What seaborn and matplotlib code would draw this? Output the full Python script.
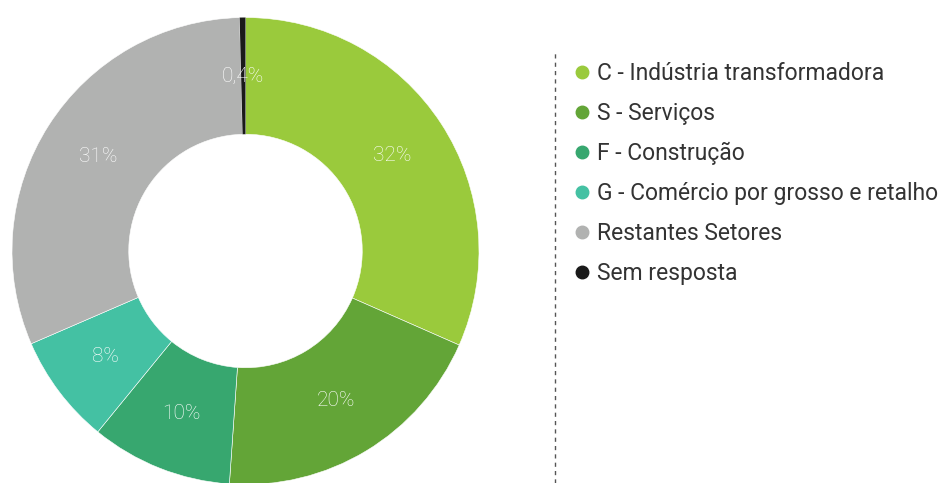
import matplotlib
matplotlib.use("Agg")
import numpy as np
import matplotlib.pyplot as plt
from matplotlib.lines import Line2D
import seaborn as sns

sectors = ["C - Indústria transformadora", "S - Serviços", "F - Construção",
           "G - Comércio por grosso e retalho", "Restantes Setores", "Sem resposta"]
shares = [31.6, 19.5, 9.8, 7.6, 31.1, 0.4]
share_labels = ["32%", "20%", "10%", "8%", "31%", "0,4%"]
colors = ["#9aca3c", "#63a537", "#37a76f", "#44c1a3", "#b1b2b1", "#1a1a1a"]

sns.set_theme(style="white")
plt.rcParams['font.family'] = ['Roboto', 'DejaVu Sans']

fig = plt.figure(figsize=(9.4, 4.83), dpi=100)
ax = fig.add_axes([12 / 940, -1.5 / 483, 467 / 940, 467 / 483])

wedges, _ = ax.pie(shares, colors=colors, startangle=90, counterclock=False,
                   radius=1.0, wedgeprops=dict(width=0.5, edgecolor="white", linewidth=0.4))
# "Sem resposta" is only a thin dark sliver
wedges[-1].set_linewidth(0)

# percentage labels in the middle of the ring
start = 90.0
for val, lab in zip(shares, share_labels):
    mid = np.deg2rad(start - val * 3.6 / 2)
    r = 0.75
    ax.text(r * np.cos(mid), r * np.sin(mid), lab, ha="center", va="center",
            color="white", fontsize=15, fontweight="light")
    start -= val * 3.6
ax.set_xlim(-1, 1)
ax.set_ylim(-1, 1)
ax.set_aspect("equal")
ax.axis("off")

# dashed separator
fig.add_artist(Line2D([555 / 940, 555 / 940], [0, 1 - 50 / 483], transform=fig.transFigure,
                      color="#555555", linestyle=(0, (3, 3)), linewidth=1))

handles = [Line2D([], [], marker="o", linestyle="", markersize=9,
                  markerfacecolor=c, markeredgecolor=c) for c in colors]
fig.legend(handles, sectors, loc="upper left", bbox_to_anchor=(563 / 940, 1 - 51 / 483),
           frameon=False, fontsize=16.5, labelspacing=0.735, handlelength=0.7,
           handletextpad=0.3, borderpad=0, labelcolor="#333333")

fig.savefig("out.png", dpi=100)
